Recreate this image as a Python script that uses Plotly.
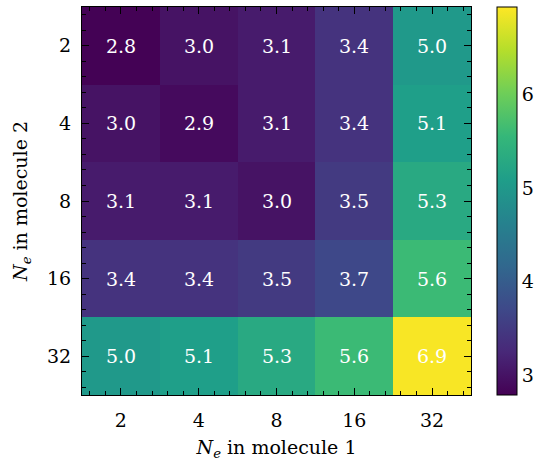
import plotly.graph_objects as go

x_labels = ["2", "4", "8", "16", "32"]
y_labels = ["2", "4", "8", "16", "32"]
values = [
    [2.8, 3.0, 3.1, 3.4, 5.0],
    [3.0, 2.9, 3.1, 3.4, 5.1],
    [3.1, 3.1, 3.0, 3.5, 5.3],
    [3.4, 3.4, 3.5, 3.7, 5.6],
    [5.0, 5.1, 5.3, 5.6, 6.9],
]
cbar_ticks = [3, 4, 5, 6]

FONT = "DejaVu Serif"
pos = list(range(len(x_labels)))

fig = go.Figure(go.Heatmap(
    z=values, x=pos, y=list(range(len(y_labels))),
    colorscale="Viridis", zmin=2.79, zmax=6.93,
    texttemplate="%{z:.1f}", textfont=dict(color="white", size=19, family=FONT),
    colorbar=dict(x=1.067, xanchor="left", xpad=0, ypad=0, y=0, yanchor="bottom", len=1, lenmode="fraction",
                  thickness=20, outlinecolor="black", outlinewidth=1,
                  tickvals=cbar_ticks, ticks="", tickfont=dict(size=19, family=FONT, color="black")),
    hoverinfo="skip",
))

axis_common = dict(
    showgrid=False, zeroline=False, showline=True, linecolor="black", linewidth=1.2,
    mirror="allticks", ticks="inside", ticklen=7, tickwidth=1, tickcolor="black",
    minor=dict(dtick=0.2, ticks="inside", ticklen=4, tickwidth=1, tickcolor="black"),
    tickfont=dict(size=19, family=FONT, color="black"),
)
fig.update_xaxes(range=[-0.5, 4.5], tickvals=pos, ticktext=x_labels, tick0=-0.4, ticklabelstandoff=8,
                 title=dict(text="<i>N</i><sub><i>e</i></sub> in molecule 1", font=dict(size=19, family=FONT, color="black"), standoff=10),
                 **axis_common)
fig.update_yaxes(range=[4.5, -0.5], tickvals=pos, ticktext=y_labels, ticklabelstandoff=6,
                 title=dict(text="<i>N</i><sub><i>e</i></sub> in molecule 2", font=dict(size=19, family=FONT, color="black"), standoff=14),
                 **axis_common)
fig.update_layout(width=540, height=461, margin=dict(l=82, r=69, t=7, b=66, autoexpand=False),
                  plot_bgcolor="white", paper_bgcolor="white")
fig.write_html("out.html")
